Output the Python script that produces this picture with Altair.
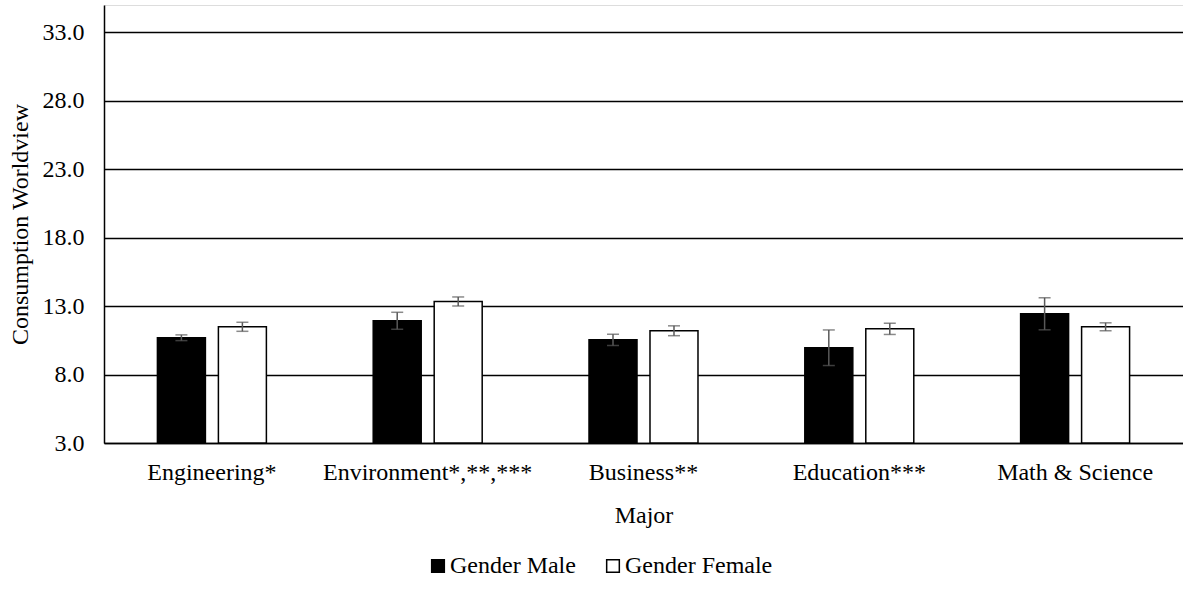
import altair as alt
import pandas as pd

# Consumption worldview by major and gender (mean ± error)
majors = ["Engineering*", "Environment*,**,***", "Business**", "Education***", "Math & Science"]
genders = ["Gender Male", "Gender Female"]
male_means = [10.69, 11.93, 10.54, 9.96, 12.44]
male_err = [0.21, 0.62, 0.41, 1.30, 1.17]
female_means = [11.49, 13.34, 11.20, 11.34, 11.49]
female_err = [0.33, 0.33, 0.36, 0.41, 0.29]
y_ticks = [3, 8, 13, 18, 23, 28, 33]

rows = []
for i, m in enumerate(majors):
    rows.append({"Major": m, "Gender": genders[0], "value": male_means[i],
                 "lo": male_means[i] - male_err[i], "hi": male_means[i] + male_err[i]})
    rows.append({"Major": m, "Gender": genders[1], "value": female_means[i],
                 "lo": female_means[i] - female_err[i], "hi": female_means[i] + female_err[i]})
df = pd.DataFrame(rows)

FONT = "Times New Roman, Liberation Serif, serif"
FS = 24

x_enc = alt.X("Major:N", sort=majors,
              scale=alt.Scale(paddingInner=0.495, paddingOuter=0.2475),
              axis=alt.Axis(title="Major", labelAngle=0, ticks=False, labelPadding=17,
                            labelFont=FONT, labelFontSize=FS, labelColor="black",
                            labelLimit=400,
                            titleFont=FONT, titleFontSize=FS, titleFontWeight="normal",
                            titleColor="black", titleY=72, titleBaseline="middle",
                            domainColor="black", domainWidth=1.5, grid=False))
xoff = alt.XOffset("Gender:N", sort=genders,
                   scale=alt.Scale(paddingInner=0.213, paddingOuter=0))
y_scale = alt.Scale(domain=[3, 35], nice=False, zero=False)

bars = alt.Chart(df).mark_bar(stroke="black", strokeWidth=1.5).encode(
    x=x_enc,
    xOffset=xoff,
    y=alt.Y("value:Q", scale=y_scale,
            axis=alt.Axis(title="Consumption Worldview", values=y_ticks, format=".1f",
                          ticks=False, labelPadding=20, labelFont=FONT, labelFontSize=FS,
                          labelColor="black", titleFont=FONT, titleFontSize=FS,
                          titleFontWeight="normal", titleColor="black", titlePadding=10,
                          grid=True, gridColor="black", gridWidth=1.6,
                          domainColor="black", domainWidth=1.5)),
    y2=alt.datum(3),
    fill=alt.Fill("Gender:N", sort=genders,
                  scale=alt.Scale(domain=genders, range=["black", "white"]),
                  legend=alt.Legend(title=None, orient="none", direction="horizontal",
                                    legendX=322, legendY=549, symbolType="square",
                                    symbolSize=160, symbolStrokeColor="black",
                                    symbolStrokeWidth=1.5, labelFont=FONT,
                                    labelFontSize=FS, labelColor="black", labelOffset=0,
                                    columnPadding=25, labelLimit=300)),
)

err_rule = alt.Chart(df).mark_rule(color="#595959", strokeWidth=1.5).encode(
    x=alt.X("Major:N", sort=majors),
    xOffset=xoff,
    y=alt.Y("lo:Q", scale=y_scale),
    y2="hi:Q",
)

cap_lo = alt.Chart(df).mark_tick(color="#595959", thickness=1.5, size=12, orient="horizontal").encode(
    x=alt.X("Major:N", sort=majors),
    xOffset=xoff,
    y=alt.Y("lo:Q", scale=y_scale),
)
cap_hi = alt.Chart(df).mark_tick(color="#595959", thickness=1.5, size=12, orient="horizontal").encode(
    x=alt.X("Major:N", sort=majors),
    xOffset=xoff,
    y=alt.Y("hi:Q", scale=y_scale),
)

chart = alt.layer(bars, err_rule, cap_lo, cap_hi).properties(
    width=1079, height=438,
    autosize=alt.AutoSizeParams(type="none"),
    padding={"left": 104, "top": 5, "right": 0, "bottom": 149},
).configure_view(stroke=None).configure(background="white")

chart.save("out.html", embed_options={"renderer": "svg", "actions": False})
